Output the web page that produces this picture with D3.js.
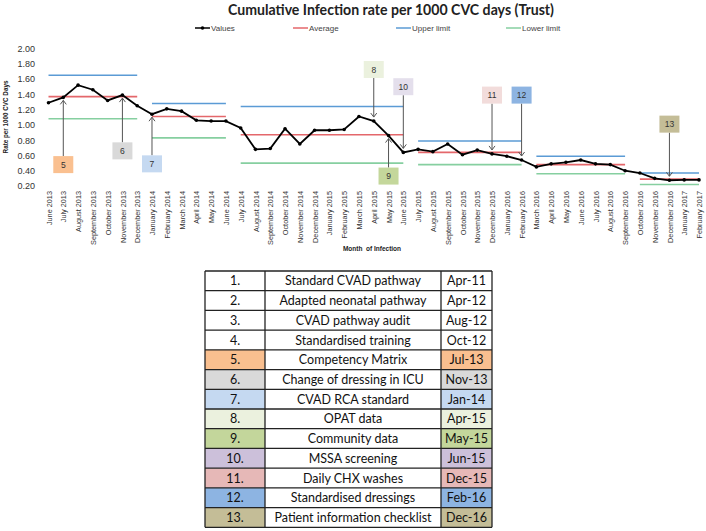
<!DOCTYPE html>
<html><head><meta charset="utf-8">
<script src="https://cdn.jsdelivr.net/npm/d3@7/dist/d3.min.js"></script>
<style>
html,body{margin:0;padding:0;background:#fff;}
svg{display:block;}
</style></head>
<body>
<svg id="chart" width="706" height="531"></svg>
<script>
const months = ["June 2013","July 2013","August 2013","September 2013","October 2013","November 2013","December 2013",
"January 2014","February 2014","March 2014","April 2014","May 2014","June 2014","July 2014","August 2014","September 2014","October 2014","November 2014","December 2014",
"January 2015","February 2015","March 2015","April 2015","May 2015","June 2015","July 2015","August 2015","September 2015","October 2015","November 2015","December 2015",
"January 2016","February 2016","March 2016","April 2016","May 2016","June 2016","July 2016","August 2016","September 2016","October 2016","November 2016","December 2016",
"January 2017","February 2017"];
const values = [1.29,1.36,1.52,1.46,1.32,1.39,1.25,
1.14,1.21,1.18,1.06,1.05,1.05,0.96,0.68,0.69,0.95,0.75,0.93,
0.93,0.94,1.11,1.05,0.86,0.64,0.68,0.65,0.75,0.61,0.67,0.62,
0.59,0.54,0.45,0.49,0.51,0.54,0.49,0.48,0.40,0.37,0.30,0.275,
0.28,0.28];
// control-limit phases (month index ranges)
const phaseStart = [0, 7, 13, 25, 33, 40];
const phaseEnd   = [6, 12, 24, 32, 39, 44];
const phaseAvg   = [1.37, 1.11, 0.87, 0.64, 0.48, 0.29];
const phaseUpper = [1.65, 1.28, 1.24, 0.79, 0.59, 0.37];
const phaseLower = [1.08, 0.83, 0.50, 0.48, 0.36, 0.22];
const yTicks = [0.2,0.4,0.6,0.8,1.0,1.2,1.4,1.6,1.8,2.0];
// annotations: label, month index pointed at, box centre (in rate units)
const annoLabel = ["5","6","7","8","9","10","11","12","13"];
const annoIdx   = [1, 5, 7, 22, 23, 24, 30, 32, 42];
const annoBoxAt = [0.48, 0.66, 0.49, 1.725, 0.33, 1.50, 1.39, 1.39, 1.01];
const annoColor = ["#FAC090","#D9D9D9","#C5D9F1","#EBF1DE","#C4D79B","#E4DFEC","#F2DCDB","#8DB4E2","#C4BD97"];
// interventions table
const tNum  = ["1.","2.","3.","4.","5.","6.","7.","8.","9.","10.","11.","12.","13."];
const tName = ["Standard CVAD pathway","Adapted neonatal pathway","CVAD pathway audit","Standardised training","Competency Matrix","Change of dressing in ICU","CVAD RCA standard","OPAT data","Community data","MSSA screening","Daily CHX washes","Standardised dressings","Patient information checklist"];
const tDate = ["Apr-11","Apr-12","Aug-12","Oct-12","Jul-13","Nov-13","Jan-14","Apr-15","May-15","Jun-15","Dec-15","Feb-16","Dec-16"];
const tColor = ["#fff","#fff","#fff","#fff","#F9BF8F","#D9D9D9","#C5D9F1","#EBF1DE","#C3D69B","#CCC0DA","#E6B8B7","#8DB4E2","#C4BD97"];

const svg = d3.select("#chart");
const x = d3.scaleLinear().domain([0, months.length-1]).range([48.5, 699]);
const y = d3.scaleLinear().domain([0.2, 2.0]).range([186, 48.5]);
const cBlue="#5B9BD5", cRed="#E4676B", cGreen="#86CFA0";

// title
svg.append("text").attr("x",391).attr("y",14.5).attr("text-anchor","middle")
  .attr("font-family","Lato, 'Open Sans', sans-serif").attr("font-weight","bold").attr("font-size",15.5)
  .attr("fill","#222").attr("textLength",326).attr("lengthAdjust","spacingAndGlyphs")
  .text("Cumulative Infection rate per 1000 CVC days (Trust)");

// legend
const legItems = [{t:"Values",c:"#000",x:195,dot:true},{t:"Average",c:cRed,x:293},{t:"Upper limit",c:cBlue,x:396},{t:"Lower limit",c:cGreen,x:506}];
const leg = svg.append("g").attr("font-family","'Liberation Sans', Arial, sans-serif").attr("font-size",8);
legItems.forEach(d=>{
  leg.append("line").attr("x1",d.x).attr("x2",d.x+15).attr("y1",28).attr("y2",28).attr("stroke",d.c).attr("stroke-width",d.dot?1.5:1.5);
  if(d.dot) leg.append("circle").attr("cx",d.x+7.5).attr("cy",28).attr("r",1.8).attr("fill","#000");
  leg.append("text").attr("x",d.x+16).attr("y",31).attr("fill","#444").text(d.t);
});

// y axis (labels only)
const yAxis = d3.axisLeft(y).tickValues(yTicks).tickFormat(d3.format(".2f")).tickSize(0).tickPadding(0);
const gy = svg.append("g").attr("transform","translate(35,0)").call(yAxis);
gy.select(".domain").remove();
gy.selectAll("text").attr("font-family","'Liberation Sans', Arial, sans-serif").attr("font-size",9).attr("fill","#333");

svg.append("text").attr("transform","translate(8,117) rotate(-90)").attr("text-anchor","middle")
  .attr("font-family","'Liberation Sans', Arial, sans-serif").attr("font-weight","bold").attr("font-size",6.3)
  .attr("fill","#222").text("Rate per 1000 CVC Days");

// x axis labels
const xAxis = d3.axisBottom(x).tickValues(d3.range(months.length)).tickFormat(i=>months[i]).tickSize(0).tickPadding(0);
const gx = svg.append("g").attr("transform","translate(0,191)").call(xAxis);
gx.select(".domain").remove();
gx.selectAll("text").attr("font-family","'Liberation Sans', Arial, sans-serif").attr("font-size",7.3).attr("fill","#333")
  .attr("text-anchor","end").attr("dy",0).attr("y",0).attr("x",0).attr("transform","rotate(-90) translate(0,2.6)");

svg.append("text").attr("x",372).attr("y",251).attr("text-anchor","middle")
  .attr("font-family","'Liberation Sans', Arial, sans-serif").attr("font-weight","bold").attr("font-size",6.5)
  .attr("fill","#222").attr("xml:space","preserve").text("Month  of Infection");

// phase lines
const phases = d3.range(phaseStart.length);
const drawPhase = (arr,col)=> svg.append("g").selectAll("line").data(phases).join("line")
  .attr("x1",i=>x(phaseStart[i])).attr("x2",i=>x(phaseEnd[i]))
  .attr("y1",i=>y(arr[i])).attr("y2",i=>y(arr[i])).attr("stroke",col).attr("stroke-width",1.6);
drawPhase(phaseUpper,cBlue);
drawPhase(phaseAvg,cRed);
drawPhase(phaseLower,cGreen);

// values line
const line = d3.line().x((d,i)=>x(i)).y(d=>y(d));
svg.append("path").datum(values).attr("d",line).attr("fill","none").attr("stroke","#000").attr("stroke-width",1.8);
svg.append("g").selectAll("circle").data(values).join("circle")
  .attr("cx",(d,i)=>x(i)).attr("cy",d=>y(d)).attr("r",1.8).attr("fill","#000");

// annotations
const ag = svg.append("g");
const bw=20, bh=17;
annoLabel.forEach((lab,k)=>{
  const px = x(annoIdx[k]), py = y(values[annoIdx[k]]);
  const by = y(annoBoxAt[k]);
  const below = by > py;
  const startY = below ? by - bh/2 : by + bh/2;
  const tipY = below ? py + 3 : py - 4;
  ag.append("line").attr("x1",px).attr("x2",px).attr("y1",startY).attr("y2",tipY).attr("stroke","#555").attr("stroke-width",1);
  const dir = below ? 1 : -1;
  ag.append("path").attr("d",`M${px-3},${tipY+dir*4}L${px},${tipY}L${px+3},${tipY+dir*4}`)
    .attr("fill","none").attr("stroke","#555").attr("stroke-width",1);
  ag.append("rect").attr("x",px-bw/2).attr("y",by-bh/2).attr("width",bw).attr("height",bh).attr("fill",annoColor[k]);
  ag.append("text").attr("x",px).attr("y",by+3).attr("text-anchor","middle")
    .attr("font-family","'Liberation Sans', Arial, sans-serif").attr("font-size",8.5).attr("fill","#333").text(lab);
});

// table
const tx0=205, tx1=265, tx2=441, tx3=492, ty0=271, rh=(527.3-271)/13;
const tg = svg.append("g").attr("font-family","Lato, 'Open Sans', sans-serif").attr("font-size",12.5).attr("fill","#111");
tNum.forEach((n,i)=>{
  const yy = ty0 + i*rh;
  tg.append("rect").attr("x",tx0).attr("y",yy).attr("width",tx1-tx0).attr("height",rh).attr("fill",tColor[i]);
  tg.append("rect").attr("x",tx1).attr("y",yy).attr("width",tx2-tx1).attr("height",rh).attr("fill","#fff");
  tg.append("rect").attr("x",tx2).attr("y",yy).attr("width",tx3-tx2).attr("height",rh).attr("fill",tColor[i]);
  tg.append("text").attr("x",(tx0+tx1)/2).attr("y",yy+rh/2+4.5).attr("text-anchor","middle").text(n);
  tg.append("text").attr("x",(tx1+tx2)/2).attr("y",yy+rh/2+4.5).attr("text-anchor","middle").text(tName[i]);
  tg.append("text").attr("x",(tx2+tx3)/2).attr("y",yy+rh/2+4.5).attr("text-anchor","middle").text(tDate[i]);
});
const lg = svg.append("g").attr("stroke","#222").attr("stroke-width",1.3).attr("fill","none");
d3.range(14).forEach(i=>lg.append("line").attr("x1",tx0).attr("x2",tx3).attr("y1",ty0+i*rh).attr("y2",ty0+i*rh));
[tx0,tx1,tx2,tx3].forEach(v=>lg.append("line").attr("x1",v).attr("x2",v).attr("y1",ty0).attr("y2",ty0+13*rh));
</script>
</body></html>
